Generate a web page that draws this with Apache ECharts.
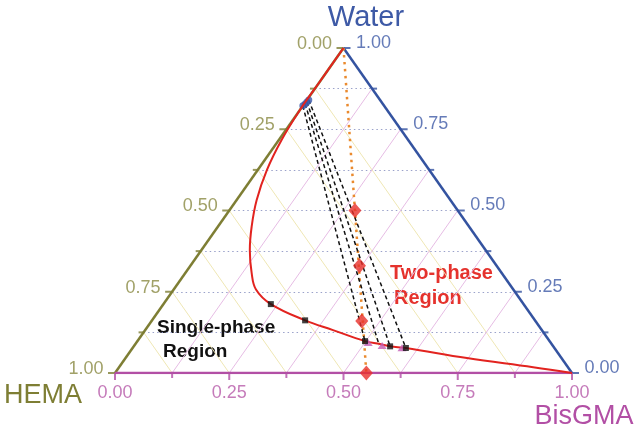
<!DOCTYPE html>
<html><head><meta charset="utf-8">
<script src="https://cdn.jsdelivr.net/npm/echarts@6/dist/echarts.min.js"></script>
<style>html,body{margin:0;padding:0;background:#fff}#c{width:640px;height:431px}</style>
</head><body><div id="c"></div>
<script>
// Ternary compositions: [HEMA, BisGMA, Water]
const binodal = [[0,0,1],[0.10,0,0.90],[0.19,0,0.81],[0.277,0.006,0.717],[0.356,0.020,0.625],[0.424,0.044,0.532],[0.476,0.074,0.450],[0.516,0.106,0.378],[0.547,0.145,0.308],[0.563,0.180,0.257],[0.553,0.235,0.212],[0.504,0.335,0.162],[0.457,0.411,0.132],[0.404,0.498,0.098],[0.376,0.535,0.089],[0.357,0.561,0.082],[0.325,0.598,0.077],[0.207,0.747,0.046],[0.076,0.906,0.018],[0,1,0]];
const squares = [[0.553,0.235,0.212],[0.504,0.335,0.162],[0.404,0.498,0.098],[0.357,0.561,0.082],[0.325,0.598,0.077]];
const triangles = [[0.400,0.507,0.094],[0.374,0.542,0.085],[0.333,0.589,0.078]];
const tieTop = [[0.178,0,0.822],[0.170,0.002,0.828],[0.163,0.003,0.834],[0.156,0.004,0.840]];
const tieBottom = [[0.404,0.498,0.098],[0.379,0.535,0.086],[0.357,0.561,0.082],[0.325,0.598,0.077]];
const dilution = [[0.225,0.275,0.50],[0.30,0.37,0.33],[0.38,0.46,0.16],[0.45,0.55,0]];
const dilutionStart = [0,0,1];
const vertices = {HEMA:[1,0,0], BisGMA:[0,1,0], Water:[0,0,1]};
const majorTicks = [0,0.25,0.5,0.75,1];
const minorTicks = [0.125,0.375,0.625,0.875];
const gridValues = [0.125,0.25,0.375,0.5,0.625,0.75,0.875];
const tickLabels = ['0.00','0.25','0.50','0.75','1.00'];

const OLIVE='#7e7e34', OLIVE_T='#8a8a42', BLUE='#3453a0', BLUE_T='#3e5aa6', PURPLE='#b24fa5', PURPLE_T='#b65aa9';
const FONT='Liberation Sans, Arial, sans-serif';

function tern(p){ return [p[1] + p[2]/2, p[2]]; }

// gridlines
const gridW = gridValues.map(w => ({coords:[tern([1-w,0,w]), tern([0,1-w,w])]}));
const gridH = gridValues.map(h => ({coords:[tern([h,0,1-h]), tern([h,1-h,0])]}));
const gridB = gridValues.map(b => ({coords:[tern([1-b,b,0]), tern([0,b,1-b])]}));

function edge(a,b,color){
  return {type:'line', data:[tern(a),tern(b)], showSymbol:false, silent:true, z:3,
    lineStyle:{color:color,width:2.5}};
}
function ticks(pts, size, offset, color){
  return {type:'scatter', data:pts, symbol:'rect', symbolSize:size, symbolOffset:offset,
    itemStyle:{color:color}, silent:true, z:3};
}
function labels(pts, texts, pos, dist, off, color){
  return {type:'scatter', data:pts.map((p,i)=>({value:p, label:{formatter:texts[i]}})), symbolSize:1,
    itemStyle:{color:'rgba(0,0,0,0)'}, silent:true, z:4,
    label:{show:true, position:pos, distance:dist, offset:off, color:color, fontSize:18, fontFamily:FONT}};
}

const leftMajor = majorTicks.map(h => tern([h,0,1-h]));
const leftMinor = minorTicks.map(h => tern([h,0,1-h]));
const rightMajor = majorTicks.map(w => tern([0,1-w,w]));
const rightMinor = minorTicks.map(w => tern([0,1-w,w]));
const botMajor = majorTicks.map(b => tern([1-b,b,0]));
const botMinor = minorTicks.map(b => tern([1-b,b,0]));

const series = [
  {type:'lines', coordinateSystem:'cartesian2d', data:gridW, silent:true, z:1,
    lineStyle:{color:'#8f97c4', width:1, type:[1.5,3], opacity:0.9}},
  {type:'lines', coordinateSystem:'cartesian2d', data:gridH, silent:true, z:1,
    lineStyle:{color:'#efe7b4', width:1, opacity:1}},
  {type:'lines', coordinateSystem:'cartesian2d', data:gridB, silent:true, z:1,
    lineStyle:{color:'#e6bce4', width:1, opacity:1}},
  edge(vertices.Water, vertices.HEMA, OLIVE),
  edge(vertices.Water, vertices.BisGMA, BLUE),
  edge(vertices.HEMA, vertices.BisGMA, PURPLE),
  ticks(leftMajor,[7,2],['-50%',0],OLIVE), ticks(leftMinor,[5,2],['-50%',0],OLIVE),
  ticks(rightMajor,[7,2],['50%',0],BLUE), ticks(rightMinor,[5,2],['50%',0],BLUE),
  ticks(botMajor,[2,7],[0,'50%'],PURPLE), ticks(botMinor,[2,5],[0,'50%'],PURPLE),
  labels(leftMajor, tickLabels, 'left', 11, [0,-4], OLIVE_T),
  labels(rightMajor, tickLabels, 'right', 12, [0,-5], BLUE_T),
  labels(botMajor, tickLabels, 'bottom', 11, [0,0], PURPLE_T),
  {type:'line', data:[tern(dilutionStart), tern(dilution[dilution.length-1])], showSymbol:false, silent:true, z:5,
    lineStyle:{color:'#ea8a2e', width:2.5, type:[2.5,4.5]}}
];
tieTop.forEach((t,i)=>{
  series.push({type:'line', data:[tern(t), tern(tieBottom[i])], showSymbol:false, silent:true, z:5,
    lineStyle:{color:'#111', width:1.5, type:[4,3]}});
});
series.push({type:'scatter', data:tieTop.map(tern), symbol:'circle', symbolSize:7, itemStyle:{color:'#3a58a8'}, z:6, silent:true});
series.push({type:'line', data:binodal.map(tern), smooth:0.4, showSymbol:false, silent:true, z:7,
  lineStyle:{color:'#e2231f', width:2}});
series.push({type:'scatter', data:triangles.map(tern), symbol:'triangle', symbolSize:[9,7], itemStyle:{color:'#c45cb4'}, z:8, silent:true});
series.push({type:'scatter', data:squares.map(tern), symbol:'rect', symbolSize:6, itemStyle:{color:'#111'}, z:9, silent:true});
series.push({type:'scatter', data:dilution.map(tern), symbol:'diamond', symbolSize:[13,15], itemStyle:{color:'#e9302b'}, z:9, silent:true});

const chart = echarts.init(document.getElementById('c'), null, {renderer:'canvas'});
chart.setOption({
  animation:false,
  backgroundColor:'#fff',
  grid:{left:115, right:68, top:48, bottom:58},
  xAxis:{type:'value', min:0, max:1, show:false},
  yAxis:{type:'value', min:0, max:1, show:false},
  series:series,
  graphic:[
    {type:'text', x:366, y:18, style:{text:'Water', fill:BLUE_T, font:'29px '+FONT, textAlign:'center', textVerticalAlign:'middle'}},
    {type:'text', x:43, y:396, style:{text:'HEMA', fill:OLIVE, font:'27px '+FONT, textAlign:'center', textVerticalAlign:'middle'}},
    {type:'text', x:584, y:417, style:{text:'BisGMA', fill:PURPLE, font:'27px '+FONT, textAlign:'center', textVerticalAlign:'middle'}},
    {type:'text', x:390, y:273, style:{text:'Two-phase', fill:'#e5322d', font:'bold 20px '+FONT, textAlign:'left', textVerticalAlign:'middle'}},
    {type:'text', x:394, y:298, style:{text:'Region', fill:'#e5322d', font:'bold 20px '+FONT, textAlign:'left', textVerticalAlign:'middle'}},
    {type:'text', x:157, y:328, style:{text:'Single-phase', fill:'#111', font:'bold 19px '+FONT, textAlign:'left', textVerticalAlign:'middle'}},
    {type:'text', x:163, y:352, style:{text:'Region', fill:'#111', font:'bold 19px '+FONT, textAlign:'left', textVerticalAlign:'middle'}}
  ]
});
</script></body></html>
